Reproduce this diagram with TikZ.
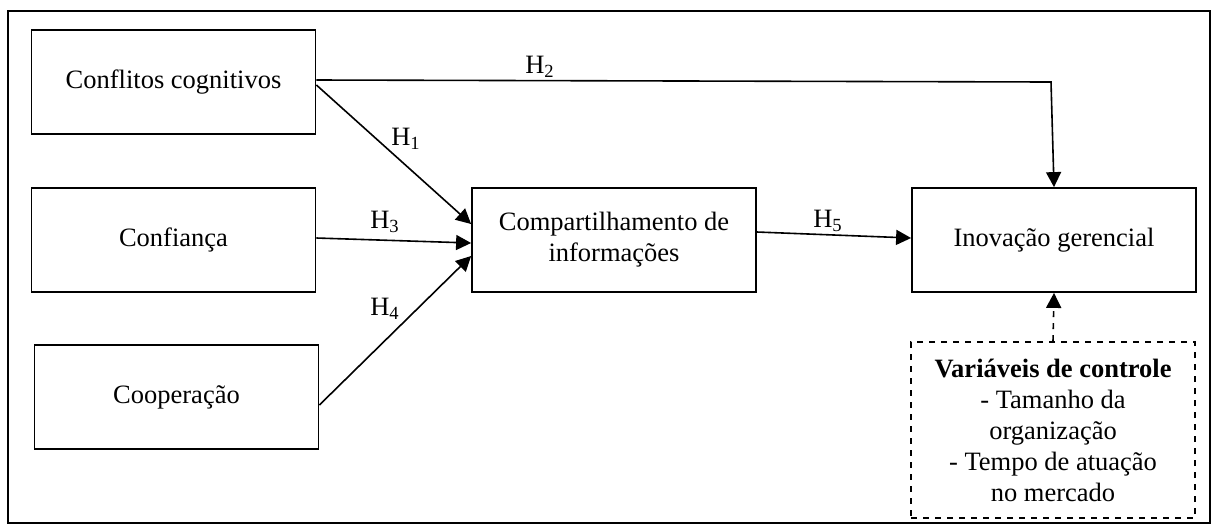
\documentclass[tikz,border=0pt]{standalone}
\usepackage{fontspec}
\setmainfont{Liberation Serif}
\usetikzlibrary{arrows.meta}
\begin{document}
\begin{tikzpicture}[x=0.5pt,y=-0.5pt,
  every node/.style={font=\fontsize{13.25}{15.5}\selectfont},
  box/.style={draw,line width=0.9pt,minimum width=142pt,minimum height=52pt,inner sep=0pt,align=center},
  ctrlbox/.style={draw,dashed,line width=0.9pt,minimum width=142pt,minimum height=88pt,inner sep=0pt,align=center},
  conn/.style={line width=0.8pt,-{Triangle[length=7.5pt,width=7.5pt]}},
  hlab/.style={inner sep=0pt}]
\useasboundingbox (0,0) rectangle (1213,526);
\draw[line width=1pt] (8,11) rectangle (1210,523);
\node[box] (c1) at (173.5,82) {Conflitos cognitivos};
\node[box] (c2) at (173.5,240) {Confiança};
\node[box] (c3) at (176.5,397) {Cooperação};
\node[box] (comp) at (614,240) {Compartilhamento de\\informações};
\node[box] (inov) at (1054,240) {Inovação gerencial};
\node[ctrlbox] (ctrl) at (1053,430) {\textbf{Variáveis de controle}\\- Tamanho da\\organização\\- Tempo de atuação\\no mercado};
\coordinate (bend) at (1051,82);
\draw[conn] ([yshift=1pt]c1.east) -- (bend) -- (inov.north);
\draw[conn] ([yshift=-1.5pt]c1.east) -- ([yshift=8pt]comp.west);
\draw[conn] ([yshift=1pt]c2.east) -- ([yshift=-1.5pt]comp.west);
\draw[conn] ([yshift=-4pt]c3.east) -- ([yshift=-8pt]comp.west);
\draw[conn] ([yshift=4pt]comp.east) -- ([yshift=1pt]inov.west);
\draw[conn,dashed] (ctrl.north) -- (inov.south);
\node[hlab] (h1) at (406,139) {H\textsubscript{1}};
\node[hlab] (h2) at (540,67) {H\textsubscript{2}};
\node[hlab] (h3) at (385,222) {H\textsubscript{3}};
\node[hlab] (h4) at (385,309) {H\textsubscript{4}};
\node[hlab] (h5) at (828,221) {H\textsubscript{5}};
\end{tikzpicture}
\end{document}
